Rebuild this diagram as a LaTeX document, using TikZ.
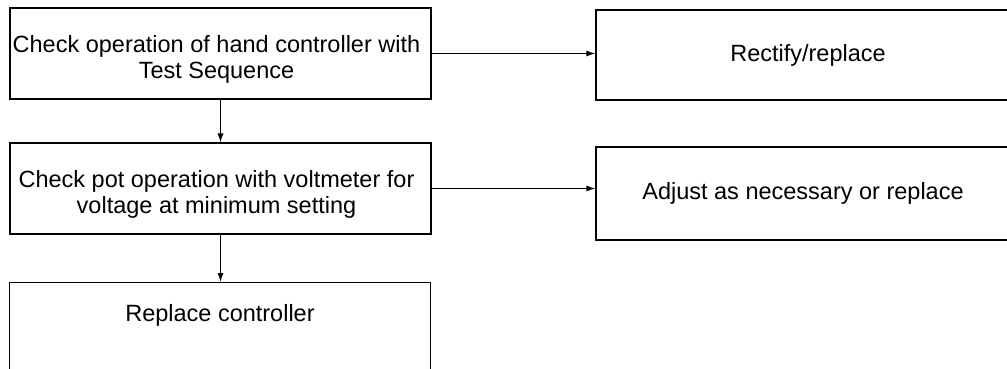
\documentclass[tikz,border=0pt]{standalone}
\usepackage{fontspec}
\setmainfont{Liberation Sans}
\usetikzlibrary{arrows.meta}
\begin{document}
\begin{tikzpicture}[x=1pt,y=-1pt,
  box/.style={draw,line width=1.1pt,inner sep=0pt,align=center,font=\fontsize{23.5}{26}\selectfont},
  lbl/.style={inner sep=0pt,align=center,font=\fontsize{23.5}{26}\selectfont},
  conn/.style={line width=1.1pt,-{Latex[length=9pt,width=6pt]}}]
\useasboundingbox (0,0) rectangle (1007,369);
\clip (0,0) rectangle (1007,369);
\node[box,minimum width=421pt,minimum height=91pt] (b1) at (220.5,53.5) {};
\node[lbl] (t1) at (216.5,59) {Check operation of hand controller with\\Test Sequence};
\node[box,minimum width=421pt,minimum height=91pt] (b2) at (220.5,188.5) {};
\node[lbl] (t2) at (216.5,194) {Check pot operation with voltmeter for\\voltage at minimum setting};
\node[box,minimum width=421pt,minimum height=130pt,anchor=north] (b3) at (220,282) {};
\node[lbl] (t3) at (220,315) {Replace controller};
\node[box,minimum width=424pt,minimum height=90pt] (r1) at (808,55) {Rectify/replace};
\node[box,minimum width=414pt,minimum height=93pt] (r2) at (803,193.5) {Adjust as necessary or replace};
\draw[conn] (b1.south) -- (b2.north);
\draw[conn] (b2.south) -- (b2.south |- b3.north);
\draw[conn] (b1.east) -- (b1.east -| r1.west);
\draw[conn] (b2.east) -- (b2.east -| r2.west);
\end{tikzpicture}
\end{document}
